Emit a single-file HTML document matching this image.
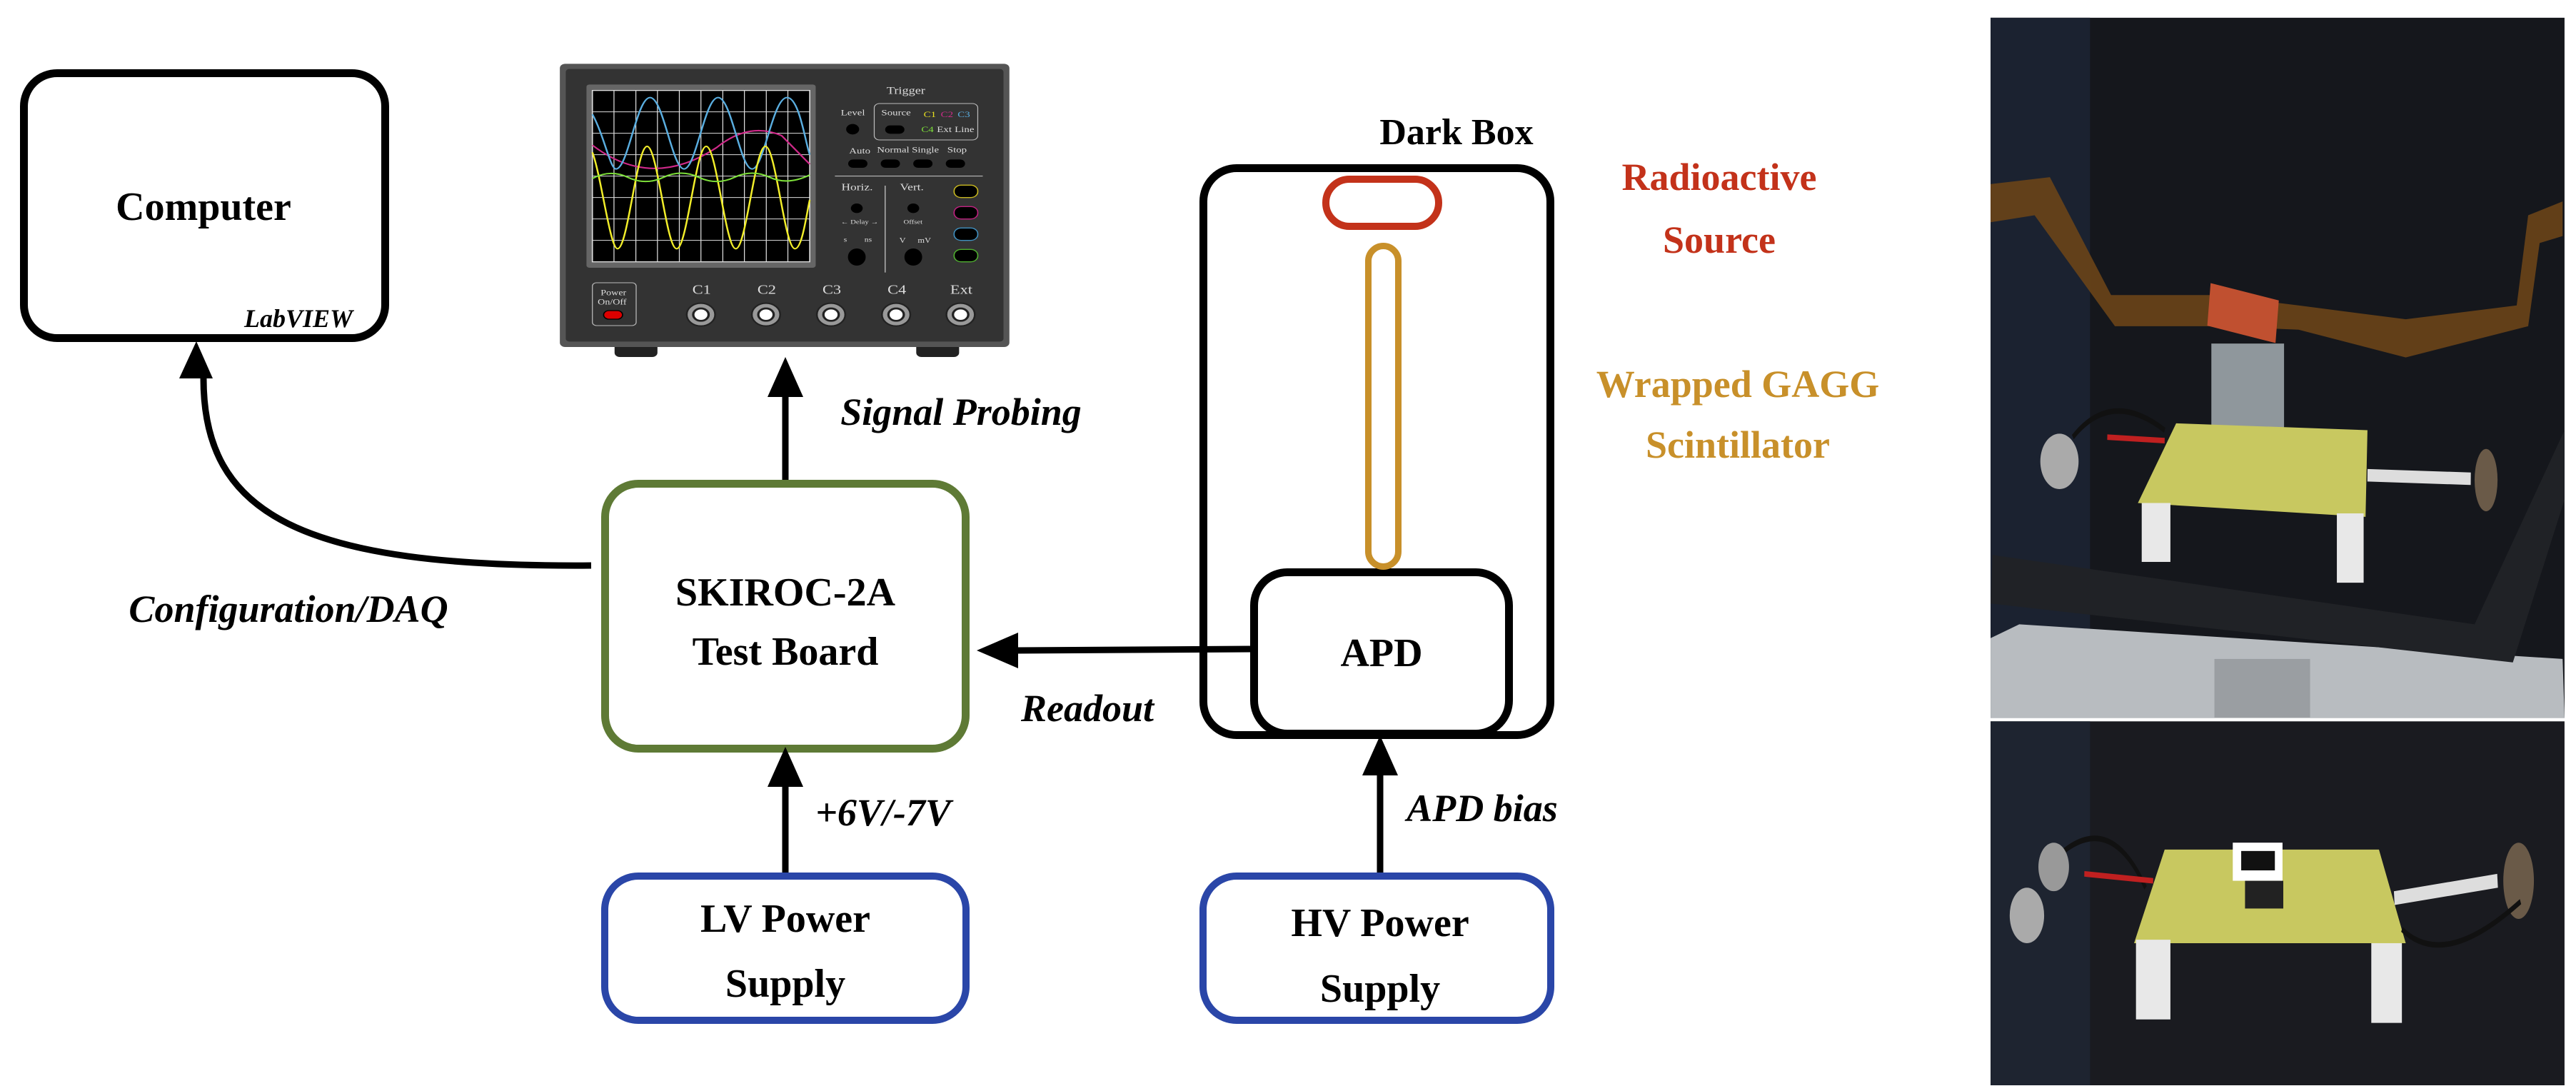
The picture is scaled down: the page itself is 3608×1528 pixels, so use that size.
<!DOCTYPE html>
<html><head><meta charset="utf-8"><style>
html,body{margin:0;padding:0;background:#fff;}
body{width:3608px;height:1528px;position:relative;overflow:hidden;font-family:"Liberation Serif",serif;}
.box{position:absolute;box-sizing:border-box;border-radius:52px;background:#fff;}
.t{position:absolute;white-space:nowrap;transform:translate(-50%,-50%);font-weight:bold;color:#000;line-height:1;}
.i{font-style:italic;}
svg{position:absolute;left:0;top:0;}
</style></head><body>

<div class="box" style="left:28px;top:97px;width:517px;height:382px;border:11px solid #000;"></div>
<div class="box" style="left:842px;top:672px;width:516px;height:382px;border:11px solid #5e7a35;"></div>
<div class="box" style="left:842px;top:1222px;width:516px;height:212px;border:10px solid #2a46a8;"></div>
<div class="box" style="left:1680px;top:1222px;width:497px;height:212px;border:10px solid #2a46a8;"></div>
<div class="box" style="left:1680px;top:230px;width:497px;height:805px;border:11px solid #000;"></div>
<div class="box" style="left:1751px;top:796px;width:368px;height:237px;border:11px solid #000;"></div>
<div class="box" style="left:1852px;top:246px;width:168px;height:76px;border:10px solid #c3321a;border-radius:38px;"></div>
<div class="box" style="left:1912px;top:340px;width:51px;height:458px;border:9px solid #c8902a;border-radius:26px;"></div>

<svg width="3608" height="1528" viewBox="0 0 3608 1528">
<g stroke="#000" stroke-width="9" fill="none">
<path d="M1100 672 V555"/>
<path d="M1100 1222 V1085"/>
<path d="M1933 1222 V1072"/>
<path d="M1751 909 L1425 911"/>
<path d="M828 792 C420 795 285 720 285 530"/>
</g>
<g fill="#000">
<path d="M1100 500 L1075 556 L1125 556Z"/>
<path d="M1100 1046 L1075 1102 L1125 1102Z"/>
<path d="M1933 1030 L1908 1086 L1958 1086Z"/>
<path d="M1368 911 L1426 886 L1426 936Z"/>
<path d="M275 478 L251 530 L298 530Z"/>
</g>
</svg>

<!-- Oscilloscope -->
<svg style="left:780px;top:80px" width="640" height="430" viewBox="0 0 1545 1290" preserveAspectRatio="none">
<rect x="195" y="1200" width="145" height="60" rx="18" fill="#222"/>
<rect x="1215" y="1200" width="145" height="60" rx="18" fill="#222"/>
<rect x="10" y="28" width="1520" height="1190" rx="18" fill="#555"/>
<rect x="30" y="50" width="1480" height="1145" rx="12" fill="#333"/>
<rect x="100" y="115" width="775" height="770" rx="10" fill="#666"/>
<rect x="120" y="140" width="735" height="720" fill="#000"/>
<g stroke="#ddd" stroke-width="3">
<path d="M193 140V860M267 140V860M340 140V860M414 140V860M487 140V860M561 140V860M634 140V860M708 140V860M781 140V860M120 230H855M120 320H855M120 410H855M120 500H855M120 590H855M120 680H855M120 770H855"/>
<rect x="120" y="140" width="735" height="720" fill="none" stroke-width="4"/>
</g>
<path d="M120 370 Q320 560 540 380 Q650 270 760 330 L855 450" stroke="#d02a8a" stroke-width="6" fill="none"/>
<path d="M120 240 C160 330 180 470 200 470 C240 470 270 170 315 170 C360 170 390 470 430 470 C470 470 500 170 545 170 C590 170 620 470 660 470 C700 470 730 170 778 170 C820 170 840 360 855 410" stroke="#5aaee0" stroke-width="6" fill="none"/>
<path d="M120 400 C150 500 180 805 205 805 C240 805 270 375 305 375 C340 375 370 805 405 805 C440 805 470 375 505 375 C540 375 570 805 605 805 C640 805 670 375 705 375 C740 375 770 805 805 805 C830 805 845 650 855 600" stroke="#f2ee2a" stroke-width="6" fill="none"/>
<path d="M120 510 Q180 470 240 505 T360 505 T480 505 T600 505 T720 505 T855 495" stroke="#7ee03a" stroke-width="6" fill="none"/>
<g fill="#ddd" font-family="Liberation Serif" font-size="36">
<text x="1115" y="155" font-size="44">Trigger</text>
<text x="960" y="245">Level</text>
<rect x="1073" y="195" width="350" height="153" rx="18" fill="none" stroke="#bbb" stroke-width="3"/>
<text x="1097" y="245">Source</text>
<text x="1240" y="252" fill="#e8e020">C1</text><text x="1298" y="252" fill="#d02a8a">C2</text><text x="1355" y="252" fill="#5aaee0">C3</text>
<text x="1232" y="315" fill="#7ee03a">C4</text><text x="1285" y="315">Ext</text><text x="1345" y="315">Line</text>
<text x="988" y="405">Auto</text><text x="1082" y="400">Normal</text><text x="1200" y="400">Single</text><text x="1320" y="400">Stop</text>
<path d="M940 500H1440M1110 540V905" stroke="#ccc" stroke-width="3"/>
<text x="962" y="560" font-size="42">Horiz.</text><text x="1160" y="560" font-size="42">Vert.</text>
<text x="960" y="700" font-size="26">← Delay →</text><text x="1172" y="700" font-size="26">Offset</text>
<text x="970" y="775" font-size="28">s</text><text x="1040" y="775" font-size="28">ns</text>
<text x="1158" y="780" font-size="30">V</text><text x="1220" y="780" font-size="30">mV</text>
<text x="148" y="1000" font-size="34">Power</text><text x="138" y="1040" font-size="34">On/Off</text>
<text x="458" y="995" font-size="54">C1</text><text x="678" y="995" font-size="54">C2</text><text x="898" y="995" font-size="54">C3</text><text x="1118" y="995" font-size="54">C4</text><text x="1330" y="995" font-size="54">Ext</text>
</g>
<g fill="#000">
<circle cx="1000" cy="303" r="22"/><rect x="1110" y="287" width="65" height="35" rx="17"/>
<rect x="985" y="430" width="65" height="35" rx="17"/><rect x="1095" y="430" width="65" height="35" rx="17"/><rect x="1205" y="430" width="65" height="35" rx="17"/><rect x="1315" y="430" width="65" height="35" rx="17"/>
<circle cx="1014" cy="635" r="20"/><circle cx="1205" cy="635" r="20"/>
<ellipse cx="1014" cy="840" rx="30" ry="36"/><ellipse cx="1205" cy="840" rx="30" ry="36"/>
</g>
<g stroke-width="4" fill="#000">
<rect x="1343" y="538" width="80" height="52" rx="24" stroke="#c8b820"/>
<rect x="1343" y="628" width="80" height="52" rx="24" stroke="#c02080"/>
<rect x="1343" y="718" width="80" height="52" rx="24" stroke="#4090c0"/>
<rect x="1343" y="808" width="80" height="52" rx="24" stroke="#50b030"/>
</g>
<rect x="120" y="948" width="148" height="180" rx="14" fill="none" stroke="#bbb" stroke-width="3"/>
<rect x="158" y="1065" width="64" height="36" rx="18" fill="#d00" stroke="#000" stroke-width="4"/>
<g fill="#999" stroke="#222" stroke-width="6">
<circle cx="487" cy="1082" r="48"/><circle cx="707" cy="1082" r="48"/><circle cx="927" cy="1082" r="48"/><circle cx="1147" cy="1082" r="48"/><circle cx="1365" cy="1082" r="48"/>
</g>
<g fill="#fff" stroke="#222" stroke-width="8">
<circle cx="487" cy="1082" r="26"/><circle cx="707" cy="1082" r="26"/><circle cx="927" cy="1082" r="26"/><circle cx="1147" cy="1082" r="26"/><circle cx="1365" cy="1082" r="26"/>
</g>
</svg>

<!-- Photos -->
<svg style="left:2780px;top:20px" width="828" height="1500" viewBox="0 0 1545 1545" preserveAspectRatio="none">
<rect x="15" y="5" width="1500" height="1010" fill="#15171c"/>
<rect x="15" y="5" width="260" height="1010" fill="#1b2230"/>
<path d="M15 900 L90 880 L1510 930 L1515 1015 L15 1015Z" fill="#b8bcc0"/>
<path d="M15 850 L1380 935 L1515 700 L1515 600 L1280 880 L20 780Z" fill="#202226"/>
<path d="M15 245 L170 235 L330 405 L600 405 L820 420 L1100 440 L1390 420 L1420 290 L1510 270 L1510 320 L1450 330 L1420 450 L1100 495 L820 455 L600 450 L340 450 L130 290 L15 300Z" fill="#6a4418" opacity="0.9"/>
<rect x="585" y="400" width="180" height="62" fill="#c05030" transform="rotate(8 675 430)"/>
<rect x="592" y="475" width="190" height="180" fill="#8f979c"/>
<path d="M500 590 L1000 600 L995 725 L400 705Z" fill="#c8c860"/>
<rect x="410" y="705" width="75" height="85" fill="#e8e8e8"/><rect x="920" y="720" width="70" height="100" fill="#e8e8e8"/>
<rect x="600" y="930" width="250" height="85" fill="#9a9ea2"/>
<path d="M230 610 Q330 540 470 600" stroke="#111" stroke-width="8" fill="none"/>
<path d="M320 610 L470 615" stroke="#c02020" stroke-width="8"/>
<ellipse cx="195" cy="645" rx="50" ry="40" fill="#aaa"/>
<path d="M1000 665 L1270 670" stroke="#ddd" stroke-width="18"/>
<ellipse cx="1310" cy="672" rx="30" ry="45" fill="#6a5a48"/>
<rect x="15" y="1020" width="1500" height="525" fill="#1a1b20"/>
<rect x="15" y="1020" width="260" height="525" fill="#1e2430"/>
<path d="M470 1205 L1030 1205 L1100 1340 L390 1340Z" fill="#c8c860"/>
<rect x="395" y="1335" width="90" height="115" fill="#e8e8e8"/><rect x="1010" y="1340" width="80" height="115" fill="#e8e8e8"/>
<rect x="648" y="1195" width="130" height="55" fill="#fff"/><rect x="670" y="1207" width="88" height="28" fill="#111"/>
<rect x="680" y="1250" width="100" height="40" fill="#222"/>
<path d="M200 1210 Q330 1150 420 1260" stroke="#111" stroke-width="8" fill="none"/>
<path d="M260 1240 L440 1250" stroke="#c02020" stroke-width="8"/>
<ellipse cx="110" cy="1300" rx="45" ry="40" fill="#aaa"/><ellipse cx="180" cy="1230" rx="40" ry="35" fill="#999"/>
<path d="M1070 1275 L1340 1250" stroke="#ddd" stroke-width="20"/>
<ellipse cx="1395" cy="1250" rx="40" ry="55" fill="#6a5a48"/>
<path d="M1090 1320 Q1200 1380 1400 1280" stroke="#111" stroke-width="8" fill="none"/>
</svg>

<div class="t" style="left:285px;top:290px;font-size:56px;">Computer</div>
<div class="t i" style="left:418px;top:446px;font-size:36px;">LabVIEW</div>
<div class="t i" style="left:1346px;top:577px;font-size:54px;">Signal Probing</div>
<div class="t i" style="left:404px;top:853px;font-size:54px;">Configuration/DAQ</div>
<div class="t" style="left:1100px;top:830px;font-size:56px;">SKIROC-2A</div>
<div class="t" style="left:1100px;top:913px;font-size:56px;">Test Board</div>
<div class="t i" style="left:1523px;top:992px;font-size:54px;">Readout</div>
<div class="t i" style="left:1237px;top:1138px;font-size:54px;">+6V/-7V</div>
<div class="t" style="left:1100px;top:1287px;font-size:56px;">LV Power</div>
<div class="t" style="left:1100px;top:1378px;font-size:56px;">Supply</div>
<div class="t" style="left:2040px;top:186px;font-size:52px;">Dark Box</div>
<div class="t" style="left:1935px;top:915px;font-size:56px;">APD</div>
<div class="t" style="left:2408px;top:248px;font-size:54px;color:#c3321a;">Radioactive</div>
<div class="t" style="left:2408px;top:336px;font-size:54px;color:#c3321a;">Source</div>
<div class="t" style="left:2434px;top:538px;font-size:54px;color:#c8902a;">Wrapped GAGG</div>
<div class="t" style="left:2434px;top:623px;font-size:54px;color:#c8902a;">Scintillator</div>
<div class="t i" style="left:2076px;top:1132px;font-size:54px;">APD bias</div>
<div class="t" style="left:1933px;top:1293px;font-size:56px;">HV Power</div>
<div class="t" style="left:1933px;top:1385px;font-size:56px;">Supply</div>
</body></html>
